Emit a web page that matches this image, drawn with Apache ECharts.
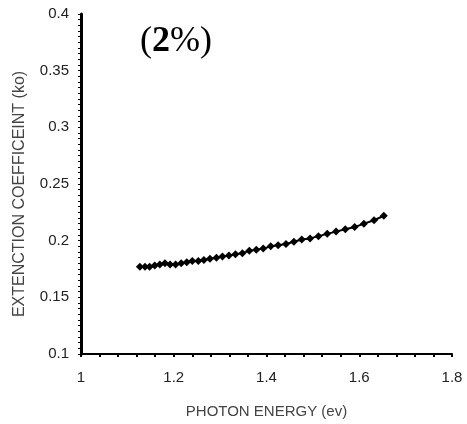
<!DOCTYPE html>
<html>
<head>
<meta charset="utf-8">
<script src="https://cdn.jsdelivr.net/npm/echarts@6/dist/echarts.min.js"></script>
<style>
  html, body { margin: 0; padding: 0; background: #fff; }
  #chart { width: 467px; height: 424px; }
</style>
</head>
<body>
<div id="chart"></div>
<script>
var energy = [1.127, 1.138, 1.148, 1.159, 1.170, 1.181, 1.192, 1.204, 1.216, 1.228,
    1.240, 1.253, 1.265, 1.278, 1.292, 1.305, 1.319, 1.333, 1.348, 1.363,
    1.378, 1.393, 1.409, 1.425, 1.442, 1.459, 1.476, 1.494, 1.512, 1.531,
    1.550, 1.570, 1.590, 1.610, 1.632, 1.653];
var extinction = [0.177, 0.177, 0.177, 0.178, 0.179, 0.180, 0.179, 0.179, 0.180, 0.181,
    0.182, 0.182, 0.183, 0.184, 0.185, 0.186, 0.187, 0.188, 0.189, 0.191,
    0.192, 0.193, 0.195, 0.196, 0.197, 0.199, 0.201, 0.202, 0.204, 0.206,
    0.208, 0.210, 0.212, 0.215, 0.218, 0.222];

var points = energy.map(function (e, i) {
    return [e, extinction[i]];
});

var chartDom = document.getElementById('chart');
var myChart = echarts.init(chartDom);
var option = {
    animation: false,
    backgroundColor: '#fff',
    title: {
        text: '({b|2}%)',
        left: 135,
        top: 19,
        textStyle: {
            fontFamily: 'Liberation Serif',
            fontSize: 36,
            fontWeight: 'normal',
            color: '#000',
            rich: {
                b: { fontFamily: 'Liberation Serif', fontSize: 36, fontWeight: 'bold', color: '#000' }
            }
        }
    },
    grid: { left: 81, right: 15, top: 14, bottom: 69 },
    xAxis: {
        type: 'value',
        min: 1,
        max: 1.8,
        interval: 0.2,
        name: 'PHOTON ENERGY (ev)',
        nameLocation: 'middle',
        nameGap: 50,
        nameTextStyle: { fontFamily: 'Liberation Sans', fontSize: 15, color: '#444' },
        axisLine: { lineStyle: { color: '#000', width: 2 } },
        axisTick: { show: true, inside: false, length: 3, lineStyle: { color: '#000', width: 2 } },
        minorTick: { show: true, splitNumber: 5, length: 3, lineStyle: { color: '#000', width: 2 } },
        splitLine: { show: false },
        axisLabel: {
            fontFamily: 'Liberation Sans', fontSize: 15, color: '#222', margin: 16,
            formatter: function (v) { return String(Math.round(v * 10) / 10); }
        }
    },
    yAxis: {
        type: 'value',
        min: 0.1,
        max: 0.4,
        interval: 0.05,
        name: 'EXTENCTION COEFFICEINT (ko)',
        nameLocation: 'middle',
        nameGap: 53,
        nameRotate: 90,
        nameTextStyle: {
            fontFamily: 'Liberation Sans', fontSize: 16, color: '#444',
            padding: [0, 20, 0, 0]
        },
        axisLine: { lineStyle: { color: '#000', width: 3 } },
        axisTick: { show: true, inside: false, length: 3, lineStyle: { color: '#000', width: 1 } },
        minorTick: { show: true, splitNumber: 10, length: 3, lineStyle: { color: '#000', width: 1 } },
        splitLine: { show: false },
        axisLabel: {
            fontFamily: 'Liberation Sans', fontSize: 15, color: '#222', margin: 12,
            formatter: function (v) { return String(Math.round(v * 100) / 100); }
        }
    },
    series: [
        {
            type: 'line',
            data: points,
            symbol: 'diamond',
            symbolSize: 8,
            itemStyle: { color: '#000' },
            lineStyle: { color: '#000', width: 2 }
        }
    ]
};
myChart.setOption(option);
</script>
</body>
</html>
